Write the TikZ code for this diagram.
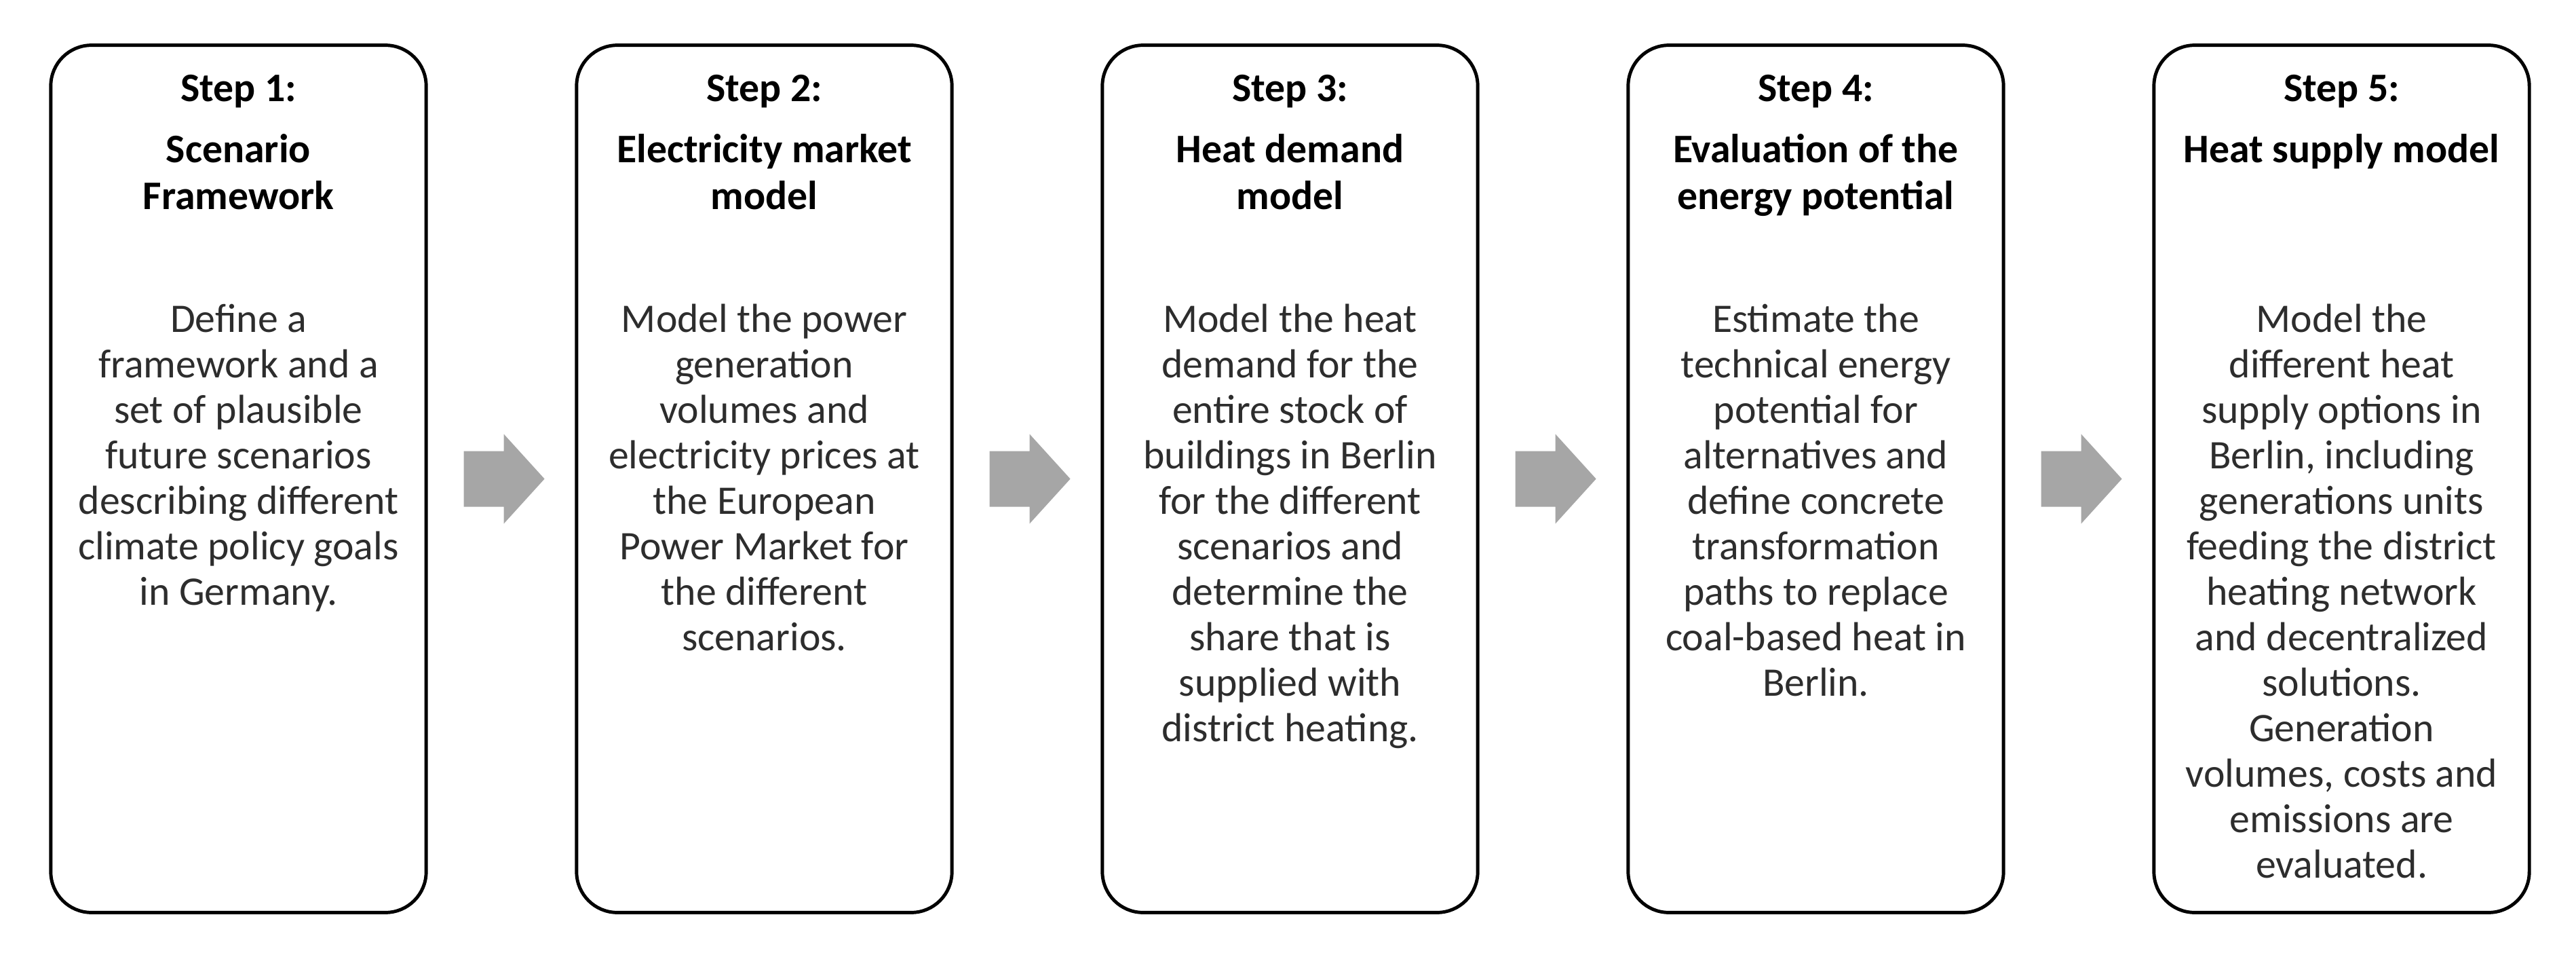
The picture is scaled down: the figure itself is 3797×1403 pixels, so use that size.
\documentclass[tikz,border=0pt]{standalone}
\usepackage{fontspec}
\setmainfont{Carlito}
\usetikzlibrary{calc}
\definecolor{arrowgray}{RGB}{166,166,166}
\definecolor{bodygray}{RGB}{45,45,45}
\tikzset{
  stepbox/.style={draw=black, line width=1.4pt, rounded corners=0.6cm, fill=white,
    minimum width=5.53cm, minimum height=12.77cm, inner sep=0pt},
  steplabel/.style={anchor=base, inner sep=0pt, font=\fontsize{17}{19.6}\selectfont\bfseries, text=black},
  titletext/.style={anchor=north, inner sep=0pt, align=center, font=\fontsize{17}{19.6}\selectfont\bfseries, text=black},
  bodytext/.style={anchor=north, inner sep=0pt, align=center, font=\fontsize{17}{19.05}\selectfont, text=bodygray},
  blockarrow/.style={fill=arrowgray, draw=none}
}
\newcommand{\fstrut}{\rule{0pt}{14pt}}
\begin{document}
\begin{tikzpicture}[x=0.01cm, y=-0.01cm]
\useasboundingbox (0,0) rectangle (3797,1403);

\foreach \i/\cx in {1/351.5, 2/1126.5, 3/1901.5, 4/2676.5, 5/3451.5} {
  \node[stepbox] (b\i) at (\cx,705.5) {};
}

% step labels
\node[steplabel] (s1) at ($(b1.north)+(0,85)$) {Step 1:};
\node[steplabel] (s2) at ($(b2.north)+(0,85)$) {Step 2:};
\node[steplabel] (s3) at ($(b3.north)+(0,85)$) {Step 3:};
\node[steplabel] (s4) at ($(b4.north)+(0,85)$) {Step 4:};
\node[steplabel] (s5) at ($(b5.north)+(0,85)$) {Step 5:};

% titles (first baseline at top+174)
\node[titletext] (t1) at ($(b1.north)+(0,125)$) {\fstrut Scenario\\Framework};
\node[titletext] (t2) at ($(b2.north)+(0,125)$) {\fstrut Electricity market\\model};
\node[titletext] (t3) at ($(b3.north)+(0,125)$) {\fstrut Heat demand\\model};
\node[titletext] (t4) at ($(b4.north)+(0,125)$) {\fstrut Evaluation of the\\energy potential};
\node[titletext] (t5) at ($(b5.north)+(0,125)$) {\fstrut Heat supply model};

% bodies (first baseline at top+424)
\node[bodytext] (d1) at ($(b1.north)+(0,375)$) {\fstrut Define a\\framework and a\\set of plausible\\future scenarios\\describing different\\climate policy goals\\in Germany.};
\node[bodytext] (d2) at ($(b2.north)+(0,375)$) {\fstrut Model the power\\generation\\volumes and\\electricity prices at\\the European\\Power Market for\\the different\\scenarios.};
\node[bodytext] (d3) at ($(b3.north)+(0,375)$) {\fstrut Model the heat\\demand for the\\entire stock of\\buildings in Berlin\\for the different\\scenarios and\\determine the\\share that is\\supplied with\\district heating.};
\node[bodytext] (d4) at ($(b4.north)+(0,375)$) {\fstrut Estimate the\\technical energy\\potential for\\alternatives and\\define concrete\\transformation\\paths to replace\\coal-based heat in\\Berlin.};
\node[bodytext] (d5) at ($(b5.north)+(0,375)$) {\fstrut Model the\\different heat\\supply options in\\Berlin, including\\generations units\\feeding the district\\heating network\\and decentralized\\solutions.\\Generation\\volumes, costs and\\emissions are\\evaluated.};

% block arrows between boxes
\foreach \a/\b in {1/2, 2/3, 3/4, 4/5} {
  \path (b\a.east) ++(53,0) coordinate (as\a);
  \fill[blockarrow] (as\a) ++(0,-41) -- ++(59,0) -- ++(0,-25) -- ++(60,66) -- ++(-60,66) -- ++(0,-25) -- ++(-59,0) -- cycle;
}
\end{tikzpicture}
\end{document}
